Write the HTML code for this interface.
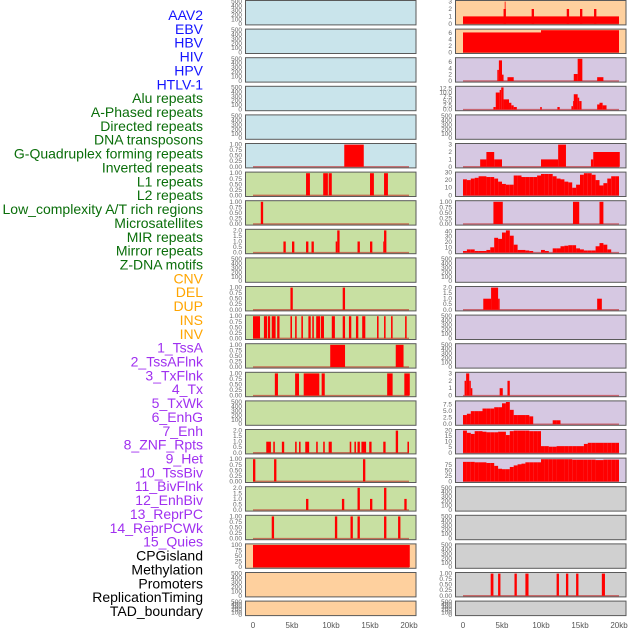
<!DOCTYPE html>
<html><head><meta charset="utf-8"><style>
html,body{margin:0;padding:0;background:#fff;}
svg{display:block;font-family:"Liberation Sans",sans-serif;}
</style></head><body>
<svg id="chart" width="630" height="630" viewBox="0 0 630 630" xmlns="http://www.w3.org/2000/svg">
<g id="labels"></g>
<g id="panels"></g>
<g id="xaxes"></g>
</svg>
<script>
// ---- track labels ----
const trackNames = ["AAV2","EBV","HBV","HIV","HPV","HTLV-1","Alu repeats","A-Phased repeats","Directed repeats","DNA transposons","G-Quadruplex forming repeats","Inverted repeats","L1 repeats","L2 repeats","Low_complexity A/T rich regions","Microsatellites","MIR repeats","Mirror repeats","Z-DNA motifs","CNV","DEL","DUP","INS","INV","1_TssA","2_TssAFlnk","3_TxFlnk","4_Tx","5_TxWk","6_EnhG","7_Enh","8_ZNF_Rpts","9_Het","10_TssBiv","11_BivFlnk","12_EnhBiv","13_ReprPC","14_ReprPCWk","15_Quies","CPGisland","Methylation","Promoters","ReplicationTiming","TAD_boundary"];
const trackGroups = ["v","v","v","v","v","v","r","r","r","r","r","r","r","r","r","r","r","r","r","s","s","s","s","s","c","c","c","c","c","c","c","c","c","c","c","c","c","c","c","o","o","o","o","o"];

// ---- x axis ----
const xTickValues = [0,5,10,15,20];
const xTickLabels = ["0","5kb","10kb","15kb","20kb"];

// ---- y tick sets ----
const ticksEmpty = [0,100,200,300,400,500];
const ticksUnit = [0,0.25,0.5,0.75,1];
const ticksTwo = [0,0.5,1,1.5,2];
const ticksThree = [0,1,2,3];

// ---- left column data: segments [startKb, endKb, value] ----
const gquadSegs = [[11.7,14.2,1]];
const invertedSegs = [[6.8,7.3,1],[9.0,9.6,1],[9.7,10.1,1],[15.0,15.5,1],[16.8,17.3,1]];
const l1Segs = [[1.0,1.3,1]];
const l2Segs = [[3.9,4.2,1],[5.0,5.3,1],[6.8,7.1,1],[7.5,7.8,1],[10.6,10.8,1],[10.8,11.1,2],[13.4,13.7,1],[15.0,15.3,1],[16.7,16.8,1],[16.8,17.1,2]];
const microSegs = [[4.8,5.1,1],[11.5,11.8,1]];
const mirrorSegs = [[0,0.9,1],[1.4,1.8,1],[1.9,2.2,1],[2.4,2.9,1],[3.1,3.4,1],[4.8,5.0,1],[5.4,5.6,1],[6.2,6.4,1],[7.1,7.4,1],[7.6,7.8,1],[8.1,8.6,1],[8.7,9.1,1],[10.1,10.5,1],[11.5,11.8,1],[12.3,12.6,1],[13.2,13.5,1],[14.0,14.4,1],[15.9,16.1,1],[16.8,17.0,1],[17.7,17.9,1],[19.5,19.7,1]];
const zdnaSegs = [[9.9,11.8,1],[18.3,19.3,1]];
const cnvSegs = [[2.8,3.2,1],[5.4,5.9,1],[6.5,8.5,1],[8.8,9.2,1],[17.2,17.9,1],[19.4,20.1,1]];
const insSegs = [[1.7,2.3,1],[2.6,2.8,1],[3.7,4.0,1],[5.4,5.6,1],[5.9,6.1,1],[6.7,7.2,1],[8.1,8.3,1],[9.0,9.2,1],[9.7,10.1,1],[12.4,12.6,1],[13.0,13.2,1],[13.4,13.7,1],[13.9,14.5,1],[14.9,15.2,1],[16.7,17.0,1],[18.3,18.6,2],[19.8,20.0,1]];
const invSegs = [[0,0.3,1],[2.7,3.0,1],[14.1,14.4,1]];
const tssaSegs = [[6.8,7.1,1],[11.4,11.7,1],[13.4,13.7,2],[15.0,15.3,1],[16.8,17.1,2],[19.4,19.7,1]];
const tssflnkSegs = [[2.4,2.7,1],[10.5,10.8,1],[12.5,12.8,1],[13.4,13.7,1],[16.8,17.1,1],[18.6,18.9,1]];
const cpgSegs = [[0,20.1,100]];

// ---- right column data ----
const r0Segs = [[0,20,1],[5.2,5.5,2],[5.35,5.45,3],[8.8,9.1,2],[13.3,13.6,2],[15.0,15.3,2],[16.8,17.1,2]];
const r1Segs = [[0,10,6.2],[10,20,6.9]];
const r2Segs = [[4.4,4.6,3.5],[4.6,5.0,6.5],[5.0,5.2,2],[5.7,6.5,1.2],[14.2,14.7,2.2],[14.7,15.3,7],[17.2,18.0,1.2]];
const r3Segs = [[3.9,4.2,1.5],[4.2,4.7,10],[4.7,4.9,11.5],[4.9,5.2,13],[5.2,5.9,6],[5.9,6.2,4],[6.2,6.5,2.5],[6.5,6.9,1.5],[9.9,10.1,1.5],[12.1,12.4,1.5],[13.9,14.1,2],[14.1,14.2,5],[14.2,14.7,9],[14.7,14.9,7],[14.9,15.2,5],[17.2,17.5,3],[17.5,17.9,4],[17.9,18.4,2.5]];
const r5Segs = [[2.2,3.0,1],[3.0,4.0,2],[4.0,5.0,1],[10.0,12.2,1],[12.2,13.2,3],[16.4,16.7,1],[16.7,20.1,2]];
const r6Bins = [21,20,22,23,25,25,24,24,22,18,15,14,14,26,26,24,24,24,24,26,28,28,28,25,22,21,18,17,10,14,27,29,29,27,20,13,16,22,25,25];
const r7Segs = [[3.9,5.1,1],[14.1,14.9,1],[17.5,18.0,1]];
const r8Bins = [3,6,6,3,3,3,5,10,28,26,38,42,32,15,5,5,4,3,0,0,5,3,0,8,8,12,13,14,14,8,6,4,4,4,12,18,15,6,0,0];
const r10Segs = [[2.6,3.6,1],[3.6,4.5,2],[4.5,4.7,1],[17.2,17.8,1]];
const r13Segs = [[0.2,0.4,2],[0.4,0.8,3],[0.8,1.0,2],[1.0,1.2,1],[4.7,5.1,1],[5.7,6.0,2]];
const r14Bins = [3.5,4,5,5,5,6,6,6,6.5,6.5,8,8.5,5.5,3.5,3.5,3.5,3.5,3,0,0,0,0,0,1.5,1.5,0,0,0,0,0,0,0,0,0,0,0,0,0,0,0];
const r15Bins = [20,18,17,19.5,19.5,19,18.5,18.5,18.5,19,19,16,19.5,20,20,20,20,19.5,19.5,19.5,6,6,5.5,5.5,6,6,6,6,6,6,6,8,9,9,9,9,9,9,9,9];
const r16Bins = [88,88,88,86,86,86,83,83,70,57,55,55,65,72,77,80,86,86,86,86,100,100,100,100,100,100,100,100,98,98,98,98,98,98,96,96,98,98,98,98];
const r20Segs = [[3.55,3.9,1],[4.5,4.8,1],[6.6,6.9,1],[8.0,8.4,1],[12.0,12.3,1],[13.2,13.5,1],[14.5,14.8,1],[17.8,18.2,1]];

const NS = "http://www.w3.org/2000/svg";
function el(tag, attrs, parent){ const e=document.createElementNS(NS,tag); for(const k in attrs) e.setAttribute(k,attrs[k]); parent.appendChild(e); return e; }

// labels
const groupColor = {v:"#1414ff", r:"#0a6e0a", s:"#ffa500", c:"#a030f0", o:"#000000"};
const labelsG = document.getElementById("labels");
trackNames.forEach((name,i)=>{
  const t = el("text",{x:203,y:15+i*13.86+5,"text-anchor":"end","font-size":"14",fill:groupColor[trackGroups[i]]},labelsG);
  
  
  t.textContent = name;
});

// panel config (layout/style only; data from arrays above)
const BG = {blue:"#c9e4eb", green:"#c8e0a2", orange:"#fed09e", purple:"#d6c8e2", gray:"#d0d0d0"};
const panelsLeft = [
  ["blue",null,null,ticksEmpty],["blue",null,null,ticksEmpty],["blue",null,null,ticksEmpty],["blue",null,null,ticksEmpty],["blue",null,null,ticksEmpty],
  ["blue",gquadSegs,null,ticksUnit],["green",invertedSegs,null,ticksUnit],["green",l1Segs,null,ticksUnit],["green",l2Segs,null,ticksTwo],
  ["green",null,null,ticksEmpty],["green",microSegs,null,ticksUnit],["green",mirrorSegs,null,ticksUnit],["green",zdnaSegs,null,ticksUnit],
  ["green",cnvSegs,null,ticksUnit],["green",null,null,ticksEmpty],["green",insSegs,null,ticksTwo],["green",invSegs,null,ticksUnit],
  ["green",tssaSegs,null,ticksTwo],["green",tssflnkSegs,null,ticksUnit],["orange",cpgSegs,null,[0,25,50,75,100]],
  ["orange",null,null,ticksEmpty],["orange",null,null,ticksEmpty]
];
const panelsRight = [
  ["orange",r0Segs,null,ticksThree],["orange",r1Segs,null,[0,2,4,6]],["purple",r2Segs,null,[0,2,4,6]],["purple",r3Segs,null,[0,2.5,5,7.5,10,12.5]],
  ["purple",null,null,ticksEmpty],["purple",r5Segs,null,ticksThree],["purple",null,r6Bins,[0,10,20,30]],["purple",r7Segs,null,ticksUnit],
  ["purple",null,r8Bins,[0,10,20,30,40]],["purple",null,null,ticksEmpty],["purple",r10Segs,null,ticksTwo],["purple",null,null,ticksEmpty],
  ["purple",null,null,ticksEmpty],["purple",r13Segs,null,ticksThree],["purple",null,r14Bins,[0,2.5,5,7.5]],["purple",null,r15Bins,[0,5,10,15,20]],
  ["purple",null,r16Bins,[0,25,50,75]],["gray",null,null,ticksEmpty],["gray",null,null,ticksEmpty],["gray",null,null,ticksEmpty],
  ["gray",r20Segs,null,ticksUnit],["gray",null,null,ticksEmpty]
];

function fmt(v, ticks){
  const dec = ticks.some(t=>Math.abs(t*100%100)===25||Math.abs(t*100%100)===75) && ticks[ticks.length-1]<=1 ? 2 :
              ticks.some(t=>t%1!==0) ? 1 : 0;
  return v.toFixed(dec);
}

const panelsG = document.getElementById("panels");
const BIN = 0.5;
function drawPanel(cfg, col, row){
  const [bg, segs, bins, ticks] = cfg;
  const left = col===0 ? 245.5 : 455.5, width = 170.5;
  const x0 = col===0 ? 253 : 463, pxkb = 7.8;
  const top = 0.5 + row*28.6, H = row===21 ? 14.5 : 24.4;
  const g = el("g",{},panelsG);
  
  
  el("rect",{x:left,y:top,width:width,height:H,fill:BG[bg],stroke:"none"},g);
  let vals = [];
  if(segs) segs.forEach(s=>vals.push(s[2]));
  if(bins) bins.forEach(b=>vals.push(b));
  const ymax = vals.length ? Math.max(...vals) : 500;
  const lo = -0.05*ymax, hi = 1.05*ymax;
  const yS = v => top + H - (v-lo)/(hi-lo)*H;
  const xS = k => x0 + k*pxkb;
  if(vals.length){
    el("line",{x1:xS(0),x2:xS(20),y1:yS(0),y2:yS(0),stroke:"rgba(190,20,20,0.55)","stroke-width":1.5},g);
  }
  const drawBar = (a,b,v)=>{
    if(v<=0) return;
    const r = el("rect",{x:xS(a),y:yS(v),width:Math.max(0.8,xS(b)-xS(a)),height:yS(0)-yS(v),fill:"#ff0000"},g);
    
    
  };
  if(segs) segs.forEach(s=>drawBar(s[0],s[1],s[2]));
  if(bins) bins.forEach((v,i)=>drawBar(i*BIN,(i+1)*BIN,v));
  el("rect",{x:left,y:top,width:width,height:H,fill:"none",stroke:"#5a5a5a","stroke-width":1},g);
  ticks.forEach(t=>{
    const tx = el("text",{x:left-3.5,y:yS(t)+2,"text-anchor":"end","font-size":"6.5",fill:"#666"},g);
    
    
    tx.textContent = fmt(t,ticks);
  });
}
panelsLeft.forEach((c,i)=>drawPanel(c,0,i));
panelsRight.forEach((c,i)=>drawPanel(c,1,i));

const xG = document.getElementById("xaxes");
[253,463].forEach((x0,ci)=>{
  xTickValues.forEach((v,i)=>{
    const t = el("text",{x:x0+v*7.8,y:628,"text-anchor":"middle","font-size":"8",fill:"#555"},xG);
    
    
    t.textContent = xTickLabels[i];
  });
});
</script>
</body></html>
